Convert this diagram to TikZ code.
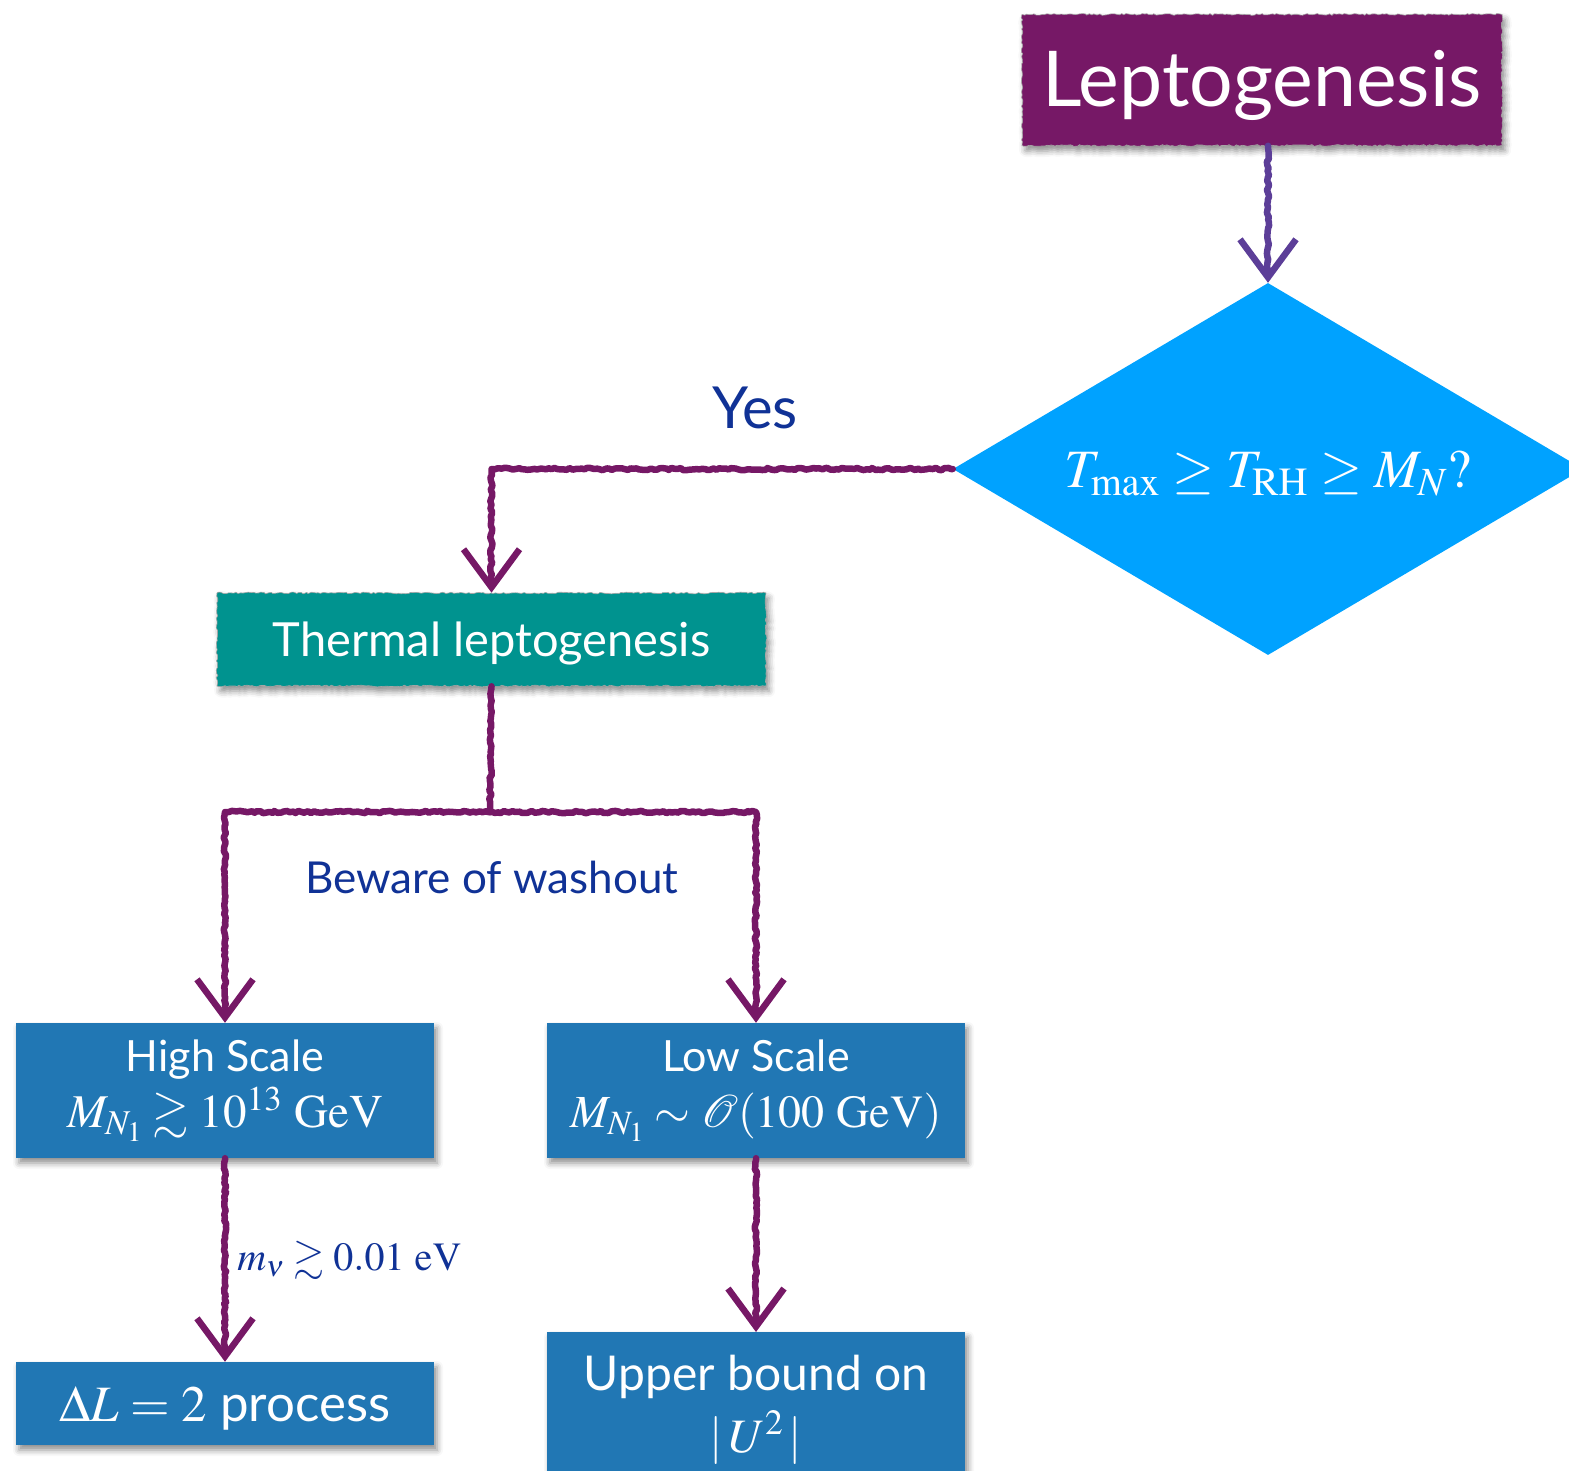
\documentclass[tikz,border=0pt]{standalone}
\usepackage{amsmath}
\usepackage{mathptmx}
\usepackage{amssymb}
\usepackage[no-math]{fontspec}
\setmainfont{Lato}
\usetikzlibrary{shapes.geometric,arrows.meta,decorations.pathmorphing,shadows.blur,calc}

\definecolor{lepfill}{RGB}{118,24,102}
\definecolor{thermfill}{RGB}{0,147,143}
\definecolor{boxblue}{RGB}{33,119,180}
\definecolor{diablue}{RGB}{0,162,255}
\definecolor{labelblue}{RGB}{16,50,150}
\definecolor{crayon}{RGB}{118,24,102}
\definecolor{crayonblue}{RGB}{92,62,152}

% font size and line distance, both in pt
\newcommand{\fs}[2]{\fontsize{#1pt}{#2pt}\selectfont}
% a one-line text whose baseline sits the given distance below the node centre
\newcommand{\lowered}[2]{\raisebox{-#1}[0pt][0pt]{#2}}

\tikzset{
  softshadow/.style={blur shadow={shadow xshift=3pt, shadow yshift=-5pt,
      shadow blur radius=6pt, shadow opacity=45}},
  roughbox/.style={rectangle, inner sep=0pt, text=white, softshadow,
      draw=black!35, line width=0.6pt,
      decorate, decoration={random steps, segment length=2.5pt, amplitude=0.9pt}},
  cleanbox/.style={rectangle, inner sep=0pt, text=white, fill=boxblue, softshadow,
      align=center},
  conn/.style={line width=6.5pt, draw=crayon, line cap=round, line join=round,
      decorate, decoration={random steps, segment length=3pt, amplitude=1.2pt,
      pre length=2pt, post length=10pt},
      -{Straight Barb[length=38pt,width=56pt]}},
  bluelabel/.style={text=labelblue, inner sep=0pt}
}

\begin{document}
\begin{tikzpicture}[x=1pt,y=-1pt]
\useasboundingbox (0,0) rectangle (1569,1471);
\clip (0,0) rectangle (1569,1471);

% decision diamond
\node[diamond, fill=diablue, inner sep=0pt, aspect=1.69,
      minimum width=630pt, minimum height=372pt, text=white]
  (dia) at (1268,469) {\fs{54}{60}\lowered{18pt}{$T_{\mathrm{max}} \geq T_{\mathrm{RH}} \geq M_N?$}};

% top box
\node[roughbox, fill=lepfill, minimum width=480pt, minimum height=131pt]
  (lep) at (1262,80) {\fs{77}{90}\lowered{27pt}{Leptogenesis}};

% thermal leptogenesis
\node[roughbox, fill=thermfill, minimum width=549pt, minimum height=93pt]
  (therm) at (491.5,639.5) {\fs{47}{55}\lowered{17pt}{Thermal leptogenesis}};

% scale boxes
\node[cleanbox, minimum width=418pt, minimum height=135pt, font=\fs{43}{56}]
  (high) at (225,1090.5)
  {High Scale\\\fs{47}{56}$M_{N_1} \gtrsim 10^{13}~\mathrm{GeV}$};
\node[cleanbox, minimum width=418pt, minimum height=135pt, font=\fs{43}{56}]
  (low) at (756,1090.5)
  {Low Scale\\\fs{46}{56}$M_{N_1} \sim \mathcal{O}(100~\mathrm{GeV})$};

\node[cleanbox, minimum width=418pt, minimum height=83pt]
  (dl) at (225,1403.5) {\fs{51}{60}\lowered{18pt}{$\Delta L = 2$ process}};
\node[cleanbox, minimum width=418pt, minimum height=150pt, anchor=north,
      font=\fs{48}{62}]
  (up) at (756,1332) {\rule{0pt}{40pt}Upper bound on\\$|\,U^2\,|$};

% labels
\node[bluelabel] (yes) at (755,408) {\fs{58}{66}Yes};
\node[bluelabel] (wash) at (492,877) {\fs{44}{50}Beware of washout};

% connectors
\coordinate (split) at (490,812);
\draw[conn, draw=crayonblue] (lep.south -| dia.north) -- (dia.north);
\draw[conn] (dia.west) -| (therm.north);
\draw[conn, -] (therm.south) -- (split);
\draw[conn] (split) -| (high.north);
\draw[conn] (split) -| (low.north);
\draw[conn] (high.south) -- (dl.north)
  node[bluelabel, pos=0.5, anchor=west, xshift=9pt]
  (mnu) {\fs{40}{46}$m_\nu \gtrsim 0.01~\mathrm{eV}$};
\draw[conn] (low.south) -- (up.north);
\end{tikzpicture}
\end{document}
